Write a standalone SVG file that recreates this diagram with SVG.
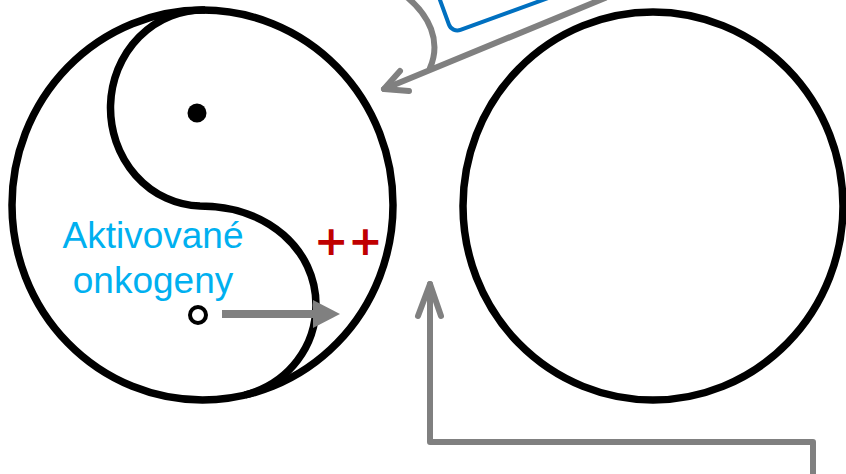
<svg xmlns="http://www.w3.org/2000/svg" width="846" height="474" viewBox="0 0 846 474">
<defs>
<style>
.cell{fill:none;stroke:#000;stroke-width:7.5}
.conn{fill:none;stroke:#808080;stroke-width:6;stroke-linecap:round;stroke-linejoin:round}
.lbl{font-family:"Liberation Sans",Arial,sans-serif;font-size:37px;fill:#00B0F0}
</style>
</defs>
<rect width="846" height="474" fill="#fff"/>
<g id="blue-box">
<rect x="0" y="-120" width="260" height="120" rx="9" transform="translate(452,33) rotate(-20)" fill="none" stroke="#0070C0" stroke-width="4"/>
</g>
<g id="cell-left">
<ellipse cx="202.5" cy="205" rx="190.5" ry="195" class="cell"/>
<path d="M205 10 A92 98 0 0 0 200 206 C268 206 316 250 316 305 C316 345 290 383 245 395" class="cell"/>
<circle cx="197" cy="113" r="9.5" fill="#000"/>
<circle cx="198" cy="315" r="8" fill="#fff" stroke="#000" stroke-width="4"/>
<text class="lbl" x="153" y="248" text-anchor="middle">Aktivované</text>
<text class="lbl" x="153" y="293" text-anchor="middle">onkogeny</text>
<text x="314" y="255" font-family="'DejaVu Sans',Verdana,sans-serif" font-weight="bold" font-size="41" fill="#C00000">++</text>
</g>
<g id="cell-right">
<ellipse cx="653" cy="206" rx="190" ry="194" class="cell"/>
</g>
<g id="connectors">
<line x1="222" y1="314" x2="316" y2="314" stroke="#808080" stroke-width="8"/>
<polygon points="313,300 340,314 313,328" fill="#808080"/>
<path d="M605 -2 L384 89" class="conn"/>
<path d="M400 71 L384 89 L409 91" class="conn"/>
<path d="M408 -2 C428 15 442 40 430 68" class="conn"/>
<path d="M813 478 L813 442 L430 442 L430 284" class="conn" stroke-linecap="butt" stroke-linejoin="miter"/>
<path d="M418 316 L430 284 L441 316" class="conn"/>
</g>
</svg>
